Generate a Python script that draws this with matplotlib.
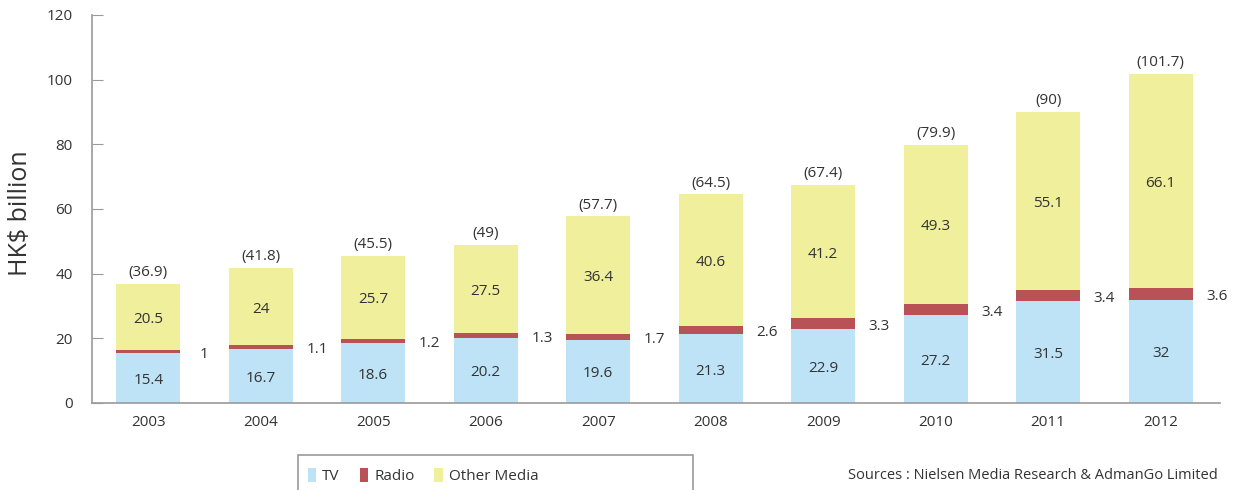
import matplotlib
matplotlib.use("Agg")
import matplotlib.pyplot as plt
from matplotlib.patches import Rectangle
import numpy as np

years = ["2003", "2004", "2005", "2006", "2007", "2008", "2009", "2010", "2011", "2012"]
tv = [15.4, 16.7, 18.6, 20.2, 19.6, 21.3, 22.9, 27.2, 31.5, 32]
radio = [1, 1.1, 1.2, 1.3, 1.7, 2.6, 3.3, 3.4, 3.4, 3.6]
other = [20.5, 24, 25.7, 27.5, 36.4, 40.6, 41.2, 49.3, 55.1, 66.1]
totals = ["36.9", "41.8", "45.5", "49", "57.7", "64.5", "67.4", "79.9", "90", "101.7"]

def fmt(v):
    return ("%g" % v)

plt.rcParams['font.family'] = ['Open Sans', 'DejaVu Sans']
txt = "#333333"
spine = "#9a9a9a"
c_tv = "#bee3f6"
c_radio = "#b95257"
c_other = "#f0ef9c"

fig = plt.figure(figsize=(12.35, 4.9), dpi=100)
ax = fig.add_axes([0.0745, 0.1776, 0.9135, 0.7918])

x = np.arange(len(years))
w = 0.57
tv_a = np.array(tv); ra = np.array(radio); ot = np.array(other)
b1 = ax.bar(x, tv_a, w, color=c_tv, label="TV")
b2 = ax.bar(x, ra, w, bottom=tv_a, color=c_radio, label="Radio")
b3 = ax.bar(x, ot, w, bottom=tv_a + ra, color=c_other, label="Other Media")

fs = 11
for i in range(len(x)):
    ax.text(x[i], tv_a[i] / 2 - 0.8, fmt(tv_a[i]), ha="center", va="center", fontsize=fs, color=txt)
    ax.text(x[i] + 0.5, tv_a[i] + ra[i] / 2 - 0.8, fmt(ra[i]), ha="center", va="center", fontsize=fs, color=txt)
    ax.text(x[i], tv_a[i] + ra[i] + ot[i] / 2 - 0.8, fmt(ot[i]), ha="center", va="center", fontsize=fs, color=txt)
    ax.text(x[i], tv_a[i] + ra[i] + ot[i] + 1.2, "(" + totals[i] + ")", ha="center", va="bottom", fontsize=fs, color=txt)

ax.set_xlim(-0.5, 9.53)
ax.set_ylim(0, 120)
ax.set_yticks(np.arange(0, 121, 20))
ax.set_xticks(x)
ax.set_xticklabels(years)
for s in ["top", "right"]:
    ax.spines[s].set_visible(False)
for s in ["left", "bottom"]:
    ax.spines[s].set_color(spine)
    ax.spines[s].set_linewidth(1.2)
ax.tick_params(axis="y", direction="in", length=8, color=spine, labelsize=fs, labelcolor=txt, pad=14)
ax.tick_params(axis="x", length=0, labelsize=fs, labelcolor=txt, pad=9)
ax.set_ylabel("HK$ billion", fontsize=18, color=txt)
ax.yaxis.set_label_coords(-0.052, 0.49)

# legend frame (cut off at bottom)
fig.patches.append(Rectangle((298 / 1235, -0.05), (693 - 298) / 1235, (490 - 455) / 490 + 0.05,
                             transform=fig.transFigure, fill=False, edgecolor=spine, linewidth=1.2))
fig.legend(handles=[b1, b2, b3], loc="center left", bbox_to_anchor=(294 / 1235, 1 - 476 / 490),
           ncol=3, frameon=False, fontsize=11, handlelength=0.55, handleheight=1.1,
           handletextpad=0.4, columnspacing=1.3, labelcolor=txt)

fig.text(1218 / 1235, 1 - 475 / 490, "Sources : Nielsen Media Research & AdmanGo Limited",
         ha="right", va="center", fontsize=10.5, color=txt)

fig.savefig("out.png", dpi=100)
